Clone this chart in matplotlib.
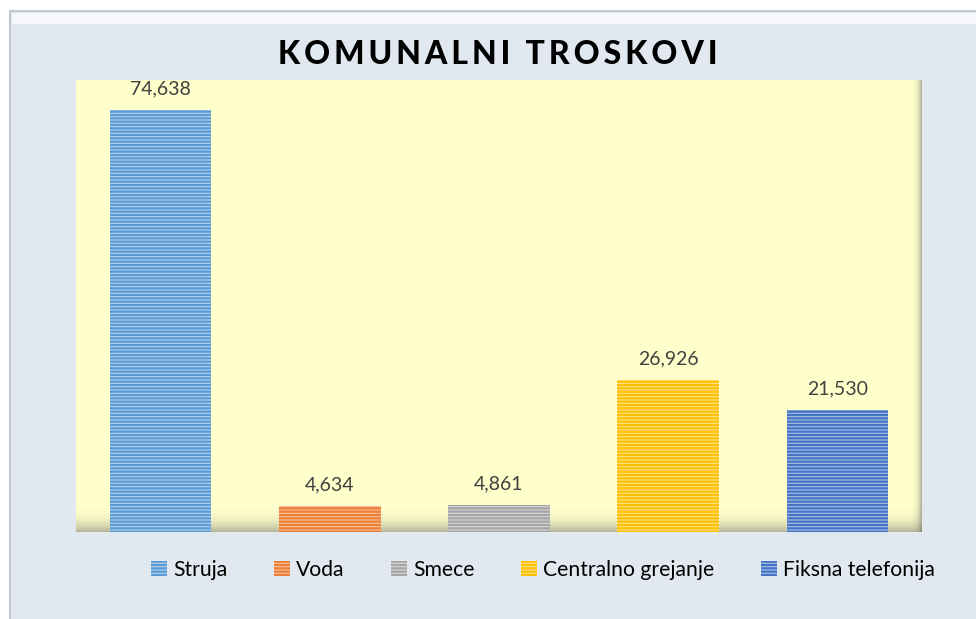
import numpy as np
import matplotlib.pyplot as plt
from matplotlib.patches import Rectangle
from matplotlib.colors import to_rgb

# 데이터
categories = ["Struja", "Voda", "Smece", "Centralno grejanje", "Fiksna telefonija"]
values = [74638, 4634, 4861, 26926, 21530]
colors = ["#5B9BD5", "#ED7D31", "#A5A5A5", "#FFC000", "#4472C4"]

plt.rcParams['font.family'] = ['Lato', 'DejaVu Sans']
plt.rcParams['hatch.linewidth'] = 1.6

def lighten(c, f=0.55):
    r, g, b = to_rgb(c)
    return (r + (1 - r) * f, g + (1 - g) * f, b + (1 - b) * f)

fig = plt.figure(figsize=(9.76, 6.19), dpi=100)
fig.patch.set_facecolor("white")

# 차트 영역 배경
fig.patches.append(Rectangle((10 / 976, -0.01), 1.0, (619 - 11) / 619 + 0.01,
                             transform=fig.transFigure, facecolor="#E2E8F0",
                             edgecolor="#C4C8CE", linewidth=1.5, zorder=0))
fig.patches.append(Rectangle((12 / 976, (619 - 24) / 619), 1.0, 11 / 619,
                             transform=fig.transFigure, facecolor="#F6F8FB",
                             edgecolor="none", zorder=0.5))

ax = fig.add_axes([76 / 976, 1 - 532 / 619, 846 / 976, 452 / 619])
ax.set_zorder(2)
ax.set_facecolor("#FFFFCC")

x = np.arange(len(categories))
bars = ax.bar(x, values, width=0.6, color=[lighten(c) for c in colors],
              edgecolor=colors, linewidth=0, hatch="-----", zorder=3,
              label=categories)

for xi, v in zip(x, values):
    ax.annotate(f"{v:,}", (xi, v), xytext=(0, 9), textcoords="offset points",
                ha="center", va="bottom", fontsize=14, color="#404040")

# 그림자 효과 (오른쪽, 아래)
grad = np.linspace(0, 1, 60)
shade_r = np.zeros((2, 60, 4))
shade_r[..., :3] = 0.35
shade_r[..., 3] = (grad ** 3)[None, :] * 0.5
ax.imshow(shade_r, extent=(0.985, 1.0, 0, 1), transform=ax.transAxes,
          aspect="auto", zorder=1)
shade_b = np.zeros((60, 2, 4))
shade_b[..., :3] = 0.35
shade_b[..., 3] = (grad ** 3)[:, None] * 0.45
ax.imshow(shade_b, extent=(0, 1, 0, 0.07), transform=ax.transAxes,
          aspect="auto", zorder=1)

ax.set_xlim(-0.5, 4.5)
ax.set_ylim(0, 80000)
ax.set_xticks([])
ax.set_yticks([])
for s in ax.spines.values():
    s.set_visible(False)

title = "  ".join("\u2009".join(w) for w in ["KOMUNALNI", "TROSKOVI"])
fig.text(498 / 976, 1 - 55 / 619, title,
         ha="center", va="center", fontsize=23, fontweight="black", color="black",
         family=['Lato', 'DejaVu Sans'])

leg = fig.legend(handles=list(bars), labels=categories, loc="center",
                 bbox_to_anchor=(543 / 976, 1 - 570 / 619), ncol=5,
                 frameon=False, fontsize=15.2, handlelength=0.75, handleheight=0.75,
                 handletextpad=0.3, columnspacing=2.2)

fig.savefig("out.png", dpi=100)
